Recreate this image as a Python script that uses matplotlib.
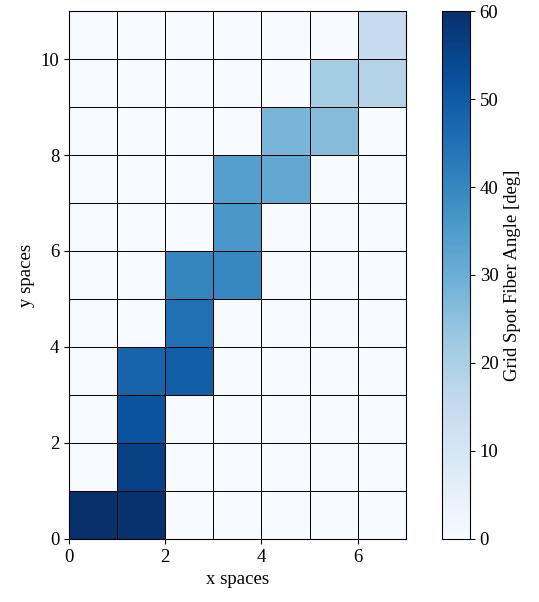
import matplotlib
matplotlib.use("Agg")
import matplotlib.pyplot as plt
import numpy as np

# データ
nx, ny = 7, 11
# (x index, y index, angle in deg) for the non-zero cells
cell_x = [0, 1, 1, 1, 1, 2, 2, 2, 3, 3, 3, 4, 4, 5, 5, 6, 6]
cell_y = [0, 0, 1, 2, 3, 3, 4, 5, 5, 6, 7, 7, 8, 8, 9, 9, 10]
cell_angle = [60, 59.5, 56, 52, 48, 49, 45, 40.5, 40, 36, 34, 31.5, 28, 26, 21.5, 18.5, 15]

grid = np.zeros((ny, nx))
for x, y, a in zip(cell_x, cell_y, cell_angle):
    grid[y, x] = a

plt.rcParams["font.family"] = ["Liberation Serif", "DejaVu Serif"]
plt.rcParams["font.size"] = 13.5
plt.rcParams["mathtext.fontset"] = "stix"

fig = plt.figure(figsize=(5.39, 6.02), dpi=100)
ax = fig.add_axes([0.128, 0.1047, 0.625, 0.877])
cax = fig.add_axes([0.820, 0.1047, 0.052, 0.877])

mesh = ax.pcolormesh(np.arange(nx + 1), np.arange(ny + 1), grid,
                     cmap="Blues", vmin=0, vmax=60,
                     edgecolors="k", linewidth=0.5)
ax.set_xlim(0, nx)
ax.set_ylim(0, ny)
ax.set_xticks([0, 2, 4, 6])
ax.set_yticks([0, 2, 4, 6, 8, 10])
ax.set_xlabel("x spaces")
ax.set_ylabel("y spaces")

cb = fig.colorbar(mesh, cax=cax)
cb.set_label("Grid Spot Fiber Angle [deg]")
cb.set_ticks([0, 10, 20, 30, 40, 50, 60])

fig.savefig("out.png", dpi=100)
